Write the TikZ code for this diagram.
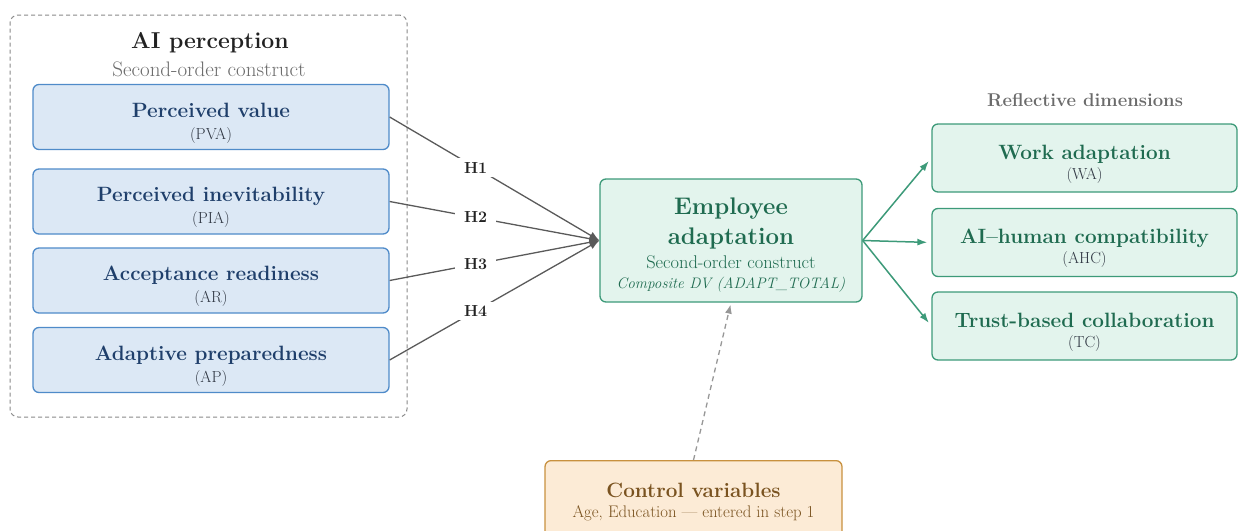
\documentclass[tikz,border=0pt]{standalone}
\usetikzlibrary{arrows.meta,positioning}
\definecolor{apink}{HTML}{222222}
\definecolor{apgray}{HTML}{6B6B6B}
\definecolor{apsub}{HTML}{2F3642}
\definecolor{apblue}{HTML}{1F3F6B}
\definecolor{apbluefill}{HTML}{DCE8F5}
\definecolor{apblueline}{HTML}{4F8BC9}
\definecolor{apgreen}{HTML}{1F6B50}
\definecolor{apgreenfill}{HTML}{E3F4ED}
\definecolor{apgreenline}{HTML}{3D9A79}
\definecolor{apbrown}{HTML}{7A5320}
\definecolor{aporangefill}{HTML}{FCEBD6}
\definecolor{aporangeline}{HTML}{C8913F}
\definecolor{apline}{HTML}{5A5A5A}
\newcommand\apbig{\fontsize{20.7}{23}\selectfont\bfseries}
\newcommand\aptitle{\apbig\rule{0pt}{26pt}}
\newcommand\aphuge{\fontsize{24}{29}\selectfont\bfseries}
\newcommand\apsmall{\fontsize{16}{21}\selectfont\mdseries\color{apsub}}
\newcommand\apmid{\fontsize{18.4}{19}\selectfont\mdseries}
\tikzset{
  ap panel/.style={draw=apgray!80, line width=1pt, dash pattern=on 4pt off 3pt,
    rounded corners=8pt},
  ap box/.style={line width=1.3pt, rounded corners=6pt, align=center, inner sep=0pt},
  ap blue/.style={ap box, draw=apblueline, fill=apbluefill, text=apblue,
    font=\fontsize{16}{22}\selectfont, minimum width=356pt, minimum height=65pt},
  ap dim/.style={ap box, draw=apgreenline, fill=apgreenfill, text=apgreen,
    font=\fontsize{16}{20}\selectfont, minimum width=305pt, minimum height=68pt},
  ap hyp/.style={fill=white, text=apink, font=\fontsize{16}{18}\selectfont\bfseries,
    inner xsep=9pt, inner ysep=4pt},
  ap link/.style={draw=apline, line width=1.3pt, -{Latex[length=10pt,width=8pt]}},
  ap out/.style={draw=apgreenline, line width=1.5pt, -{Latex[length=10pt,width=7pt]},
    shorten >=4pt},
  ap control/.style={draw=apgray!70, line width=1.3pt, dash pattern=on 5pt off 4pt,
    -{Latex[length=9pt,width=7pt]}, shorten >=2pt}
}

\begin{document}
\begin{tikzpicture}[x=1pt, y=-1pt]
  \useasboundingbox (0,0) rectangle (1238,530);
  \clip (0,0) rectangle (1238,530);
  % left group
  \node[ap panel, minimum width=397pt, minimum height=402pt] (perc) at (208.5,216) {};
  \node[text=apink, font=\fontsize{23}{26}\selectfont\bfseries] (perctitle) at (210,43) {AI perception};
  \node[text=apgray, font=\fontsize{21}{24}\selectfont] (percsub) at (209,69) {Second-order construct};
  \node[ap blue] (pva) at (211,117) {\aptitle Perceived value\\\apsmall (PVA)};
  \node[ap blue] (pia) at (211,201.5) {\aptitle Perceived inevitability\\\apsmall (PIA)};
  \node[ap blue] (ar) at (211,280.5) {\aptitle Acceptance readiness\\\apsmall (AR)};
  \node[ap blue] (ap) at (211,360) {\aptitle Adaptive preparedness\\\apsmall (AP)};
  % dependent construct
  \node[ap box, draw=apgreenline, fill=apgreenfill, text=apgreen, font=\fontsize{15}{20}\selectfont, minimum width=262pt, minimum height=123pt] (emp) at (731,240.5) {\aphuge\rule{0pt}{26pt}Employee\\[8pt]\aphuge adaptation\\[4pt]\apmid Second-order construct\\\fontsize{15.2}{19}\selectfont\itshape Composite DV (ADAPT\_TOTAL)};
  % hypotheses
  \draw[ap link] (pva.east) -- node[ap hyp, pos=0.41] (h1) {H1} (emp.west);
  \draw[ap link] (pia.east) -- node[ap hyp, pos=0.41] (h2) {H2} (emp.west);
  \draw[ap link] (ar.east) -- node[ap hyp, pos=0.41] (h3) {H3} (emp.west);
  \draw[ap link] (ap.east) -- node[ap hyp, pos=0.41] (h4) {H4} (emp.west);
  % reflective dimensions
  \node[text=apgray, font=\fontsize{18.5}{21}\selectfont\bfseries] (refl) at (1085,100) {Reflective dimensions};
  \node[ap dim] (wa) at (1084.5,158) {\aptitle Work adaptation\\\apsmall (WA)};
  \node[ap dim] (ahc) at (1084.5,242.5) {\aptitle AI--human compatibility\\\apsmall (AHC)};
  \node[ap dim] (tc) at (1084.5,326) {\aptitle Trust-based collaboration\\\apsmall (TC)};
  \foreach \d in {wa,ahc,tc}
    \draw[ap out] (emp.east) -- (\d.west);
  % controls
  \node[ap box, draw=aporangeline, fill=aporangefill, text=apbrown, font=\fontsize{16}{20}\selectfont, anchor=north, minimum width=297pt, minimum height=82pt] (ctrl) at (693.5,460) {\apbig Control variables\\\fontsize{16.8}{20}\selectfont\mdseries Age, Education --- entered in step 1};
  \draw[ap control] (ctrl.north) -- (emp.south);
\end{tikzpicture}
\end{document}
